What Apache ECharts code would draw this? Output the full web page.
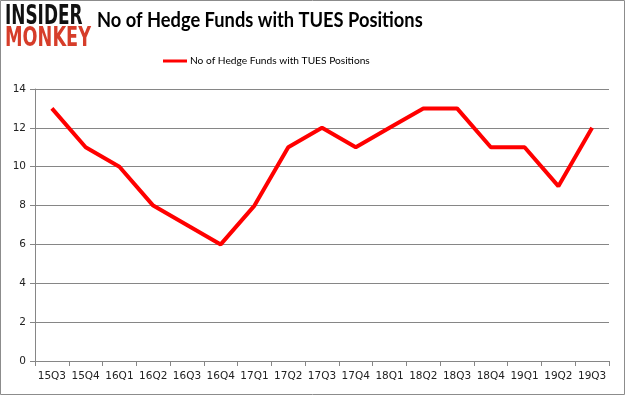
<!DOCTYPE html>
<html><head><meta charset="utf-8">
<script src="https://cdn.jsdelivr.net/npm/echarts@6/dist/echarts.min.js"></script>
<style>html,body{margin:0;padding:0;background:#fff}#c{width:625px;height:395px}</style>
</head><body><div id="c"></div>
<script>
const categories = ['15Q3','15Q4','16Q1','16Q2','16Q3','16Q4','17Q1','17Q2','17Q3','17Q4','18Q1','18Q2','18Q3','18Q4','19Q1','19Q2','19Q3'];
const values = [13,11,10,8,7,6,8,11,12,11,12,13,13,11,11,9,12];
const seriesName = 'No of Hedge Funds with TUES Positions';
const titleText = 'No of Hedge Funds with TUES Positions';
const chart = echarts.init(document.getElementById('c'));
chart.setOption({
  animation:false,
  legend:{top:51,left:158,itemWidth:24,itemHeight:3,itemGap:4,icon:'rect',textStyle:{fontFamily:'Lato',fontSize:10.2,color:'#000',padding:[0,0,0,-2]},data:[seriesName]},
  grid:{left:35,right:16,top:89,bottom:34},
  xAxis:{type:'category',data:categories,boundaryGap:true,
    axisLine:{lineStyle:{color:'#868686'}},axisTick:{show:true,length:5,lineStyle:{color:'#868686'}},
    axisLabel:{color:'#222',fontFamily:'DejaVu Sans',fontSize:10.5,margin:10,interval:0}},
  yAxis:{type:'value',min:0,max:14,interval:2,
    axisLine:{show:true,lineStyle:{color:'#868686'}},axisTick:{show:true,length:5,lineStyle:{color:'#868686'}},
    splitLine:{lineStyle:{color:'#868686'}},
    axisLabel:{color:'#222',fontFamily:'DejaVu Sans',fontSize:10.5,margin:9}},
  series:[{name:seriesName,type:'line',data:values,showSymbol:false,symbol:'none',
    lineStyle:{color:'#ff0000',width:4},itemStyle:{color:'#ff0000'}}],
  graphic:[
    {type:'rect',shape:{x:0.5,y:0.5,width:624,height:394},style:{fill:'none',stroke:'#8c8c8c',lineWidth:1}},
    {type:'text',x:97,y:10,scaleX:0.87,style:{text:titleText,fontFamily:'Lato',fontWeight:'bold',fontSize:21,fill:'#000'}},
    {type:'text',x:5,y:4,scaleX:0.65,style:{text:'INSIDER',fontFamily:'DejaVu Sans',fontWeight:'bold',fontSize:26,fill:'#111'}},
    {type:'text',x:5,y:26,scaleX:0.68,style:{text:'MONKEY',fontFamily:'DejaVu Sans',fontWeight:'bold',fontSize:26,fill:'#d63d2a'}}
  ]
});
</script></body></html>
